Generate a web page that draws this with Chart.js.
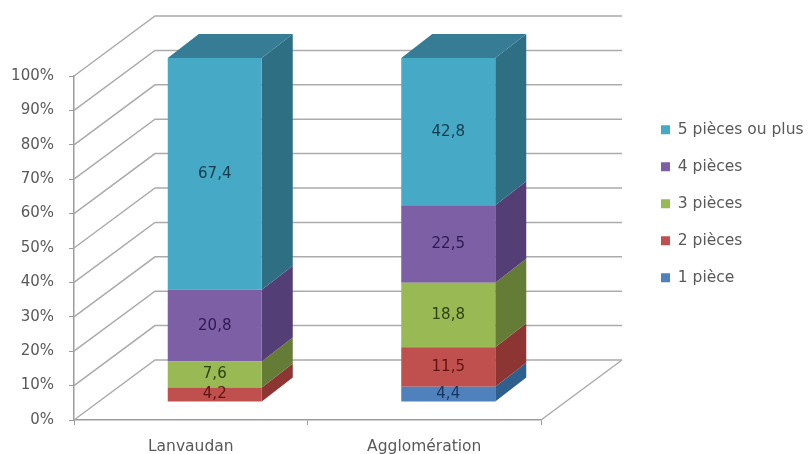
<!DOCTYPE html>
<html><head><meta charset="utf-8">
<style>html,body{margin:0;padding:0;background:#fff}canvas{display:block;filter:blur(0.6px)}</style>
<script src="https://cdn.jsdelivr.net/npm/chart.js@4"></script></head>
<body><canvas id="c" width="811" height="454"></canvas>
<script>
const categories = ["Lanvaudan", "Agglomération"];
const seriesNames = ["1 pièce", "2 pièces", "3 pièces", "4 pièces", "5 pièces ou plus"];
const piece1 = [0, 4.4];
const piece2 = [4.2, 11.5];
const piece3 = [7.6, 18.8];
const piece4 = [20.8, 22.5];
const piece5 = [67.4, 42.8];
const frontColors = ["#4F81BD", "#C0504D", "#98B954", "#7D5FA5", "#46A9C6"];
const sideColors = ["#2F5F8D", "#8C3533", "#647C36", "#533E75", "#2F6F84"];
const labelColors = ["#17365D", "#5E1412", "#2E4310", "#2E1A52", "#123C4C"];
const topColor = "#357C94";
const gridColor = "#ABABAB";
const wallDx = 81, wallDy = -60;
const barDx = 24, barDy = -18, depthX = 31, depthY = -24;
const font = "'DejaVu Sans'";

const plugin3d = {
  id: "plugin3d",
  beforeLayout(chart) {
    const l = chart.legend;
    if (!l._wrapped) {
      const f = l.fit;
      l.fit = function () { f.call(this); this.width = 270; };
      l._wrapped = true;
    }
  },
  afterLayout(chart) {
    const l = chart.legend, p = l.options.labels.padding;
    l.left = 661 - p; l.right = 811;
    l.top = 122 - p; l.bottom = l.top + 260;
  },
  beforeDatasetsDraw(chart) {
    const { ctx, scales: { y }, chartArea: a } = chart;
    ctx.save();
    ctx.strokeStyle = gridColor; ctx.lineWidth = 1.5;
    y.ticks.forEach(t => {
      const py = y.getPixelForValue(t.value);
      ctx.beginPath();
      ctx.moveTo(a.left, py);
      ctx.lineTo(a.left + wallDx, py + wallDy);
      ctx.lineTo(a.right + wallDx, py + wallDy);
      ctx.stroke();
    });
    const by = y.getPixelForValue(0);
    ctx.beginPath();
    ctx.moveTo(a.right, by);
    ctx.lineTo(a.right + wallDx, by + wallDy);
    ctx.stroke();
    ctx.restore();
    ctx.save();
    ctx.translate(barDx, barDy);
    chart.data.datasets.forEach((ds, i) => {
      chart.getDatasetMeta(i).data.forEach((b, j) => {
        if (!ds.data[j]) return;
        const r = b.x + b.width / 2, l = b.x - b.width / 2;
        ctx.fillStyle = sideColors[i];
        ctx.beginPath();
        ctx.moveTo(r, b.y); ctx.lineTo(r + depthX, b.y + depthY);
        ctx.lineTo(r + depthX, b.base + depthY); ctx.lineTo(r, b.base);
        ctx.closePath(); ctx.fill();
        if (i === chart.data.datasets.length - 1) {
          ctx.fillStyle = topColor;
          ctx.beginPath();
          ctx.moveTo(l, b.y); ctx.lineTo(l + depthX, b.y + depthY);
          ctx.lineTo(r + depthX, b.y + depthY); ctx.lineTo(r, b.y);
          ctx.closePath(); ctx.fill();
        }
      });
    });
  },
  afterDatasetsDraw(chart) {
    const { ctx } = chart;
    chart.data.datasets.forEach((ds, i) => {
      chart.getDatasetMeta(i).data.forEach((b, j) => {
        if (!ds.data[j]) return;
        ctx.fillStyle = labelColors[i];
        ctx.font = "15px " + font;
        ctx.textAlign = "center"; ctx.textBaseline = "middle";
        ctx.fillText(String(ds.data[j]).replace(".", ","), b.x, (b.y + b.base) / 2);
      });
    });
    ctx.restore();
  }
};

const values = [piece1, piece2, piece3, piece4, piece5];
new Chart(document.getElementById("c"), {
  type: "bar",
  data: {
    labels: categories,
    datasets: seriesNames.map((n, i) => ({
      label: n, data: values[i], backgroundColor: frontColors[i], borderWidth: 0,
      barPercentage: 0.4026, categoryPercentage: 1
    }))
  },
  options: {
    responsive: false, animation: false,
    layout: { padding: { top: 76, left: 0, right: 0, bottom: 0 } },
    plugins: {
      tooltip: { enabled: false },
      title: { display: false },
      legend: {
        position: "right", align: "start", reverse: true,
        labels: { boxWidth: 9, boxHeight: 9, padding: 21.5, color: "#595959", font: { family: font, size: 15.5 } }
      }
    },
    scales: {
      x: {
        stacked: true,
        afterFit(s) { s.height = 34; },
        grid: { drawOnChartArea: false, drawTicks: true, tickLength: 5, color: "#9C9C9C" },
        border: { color: "#9C9C9C", width: 1.5 },
        ticks: { color: "#595959", font: { family: font, size: 15.5 }, maxRotation: 0, padding: 13 }
      },
      y: {
        stacked: true, min: 0, max: 100,
        afterFit(s) { s.width = 74; },
        grid: { drawOnChartArea: false, drawTicks: true, tickLength: 5, color: "#9C9C9C" },
        border: { color: "#9C9C9C", width: 1.5 },
        ticks: { stepSize: 10, color: "#595959", padding: 15, font: { family: font, size: 15 }, callback: v => v + "%" }
      }
    }
  },
  plugins: [plugin3d]
});
</script></body></html>
